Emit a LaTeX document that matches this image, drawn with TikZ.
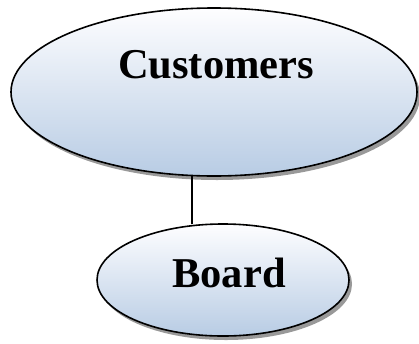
\documentclass[tikz,border=0pt]{standalone}
\usepackage{fontspec}
\setmainfont{Liberation Serif}
\begin{document}
\begin{tikzpicture}[x=1pt,y=-1pt,
  ell/.style={draw=black,line width=1.6pt,top color=white!97!blue!20,bottom color={rgb,255:red,184;green,204;blue,228}},
  shd/.style={fill=black!40,draw=none},
  lbl/.style={font=\fontsize{42.5}{42.5}\selectfont\bfseries,anchor=base,inner sep=0pt}]
\useasboundingbox (0,0) rectangle (419,343);
\fill[shd] (217,96) ellipse [x radius=203,y radius=84];
\draw[ell] (214,92) ellipse [x radius=203,y radius=84];
\coordinate (cbot) at (192,176);
\node[lbl] (cust) at (216,78) {Customers};
\fill[shd] (226,284) ellipse [x radius=126,y radius=56];
\draw[ell] (223,280) ellipse [x radius=126,y radius=56];
\coordinate (btop) at (192,224);
\node[lbl] (board) at (229,287) {Board};
\draw[line width=1.8pt] (cbot) -- (btop);
\end{tikzpicture}
\end{document}
